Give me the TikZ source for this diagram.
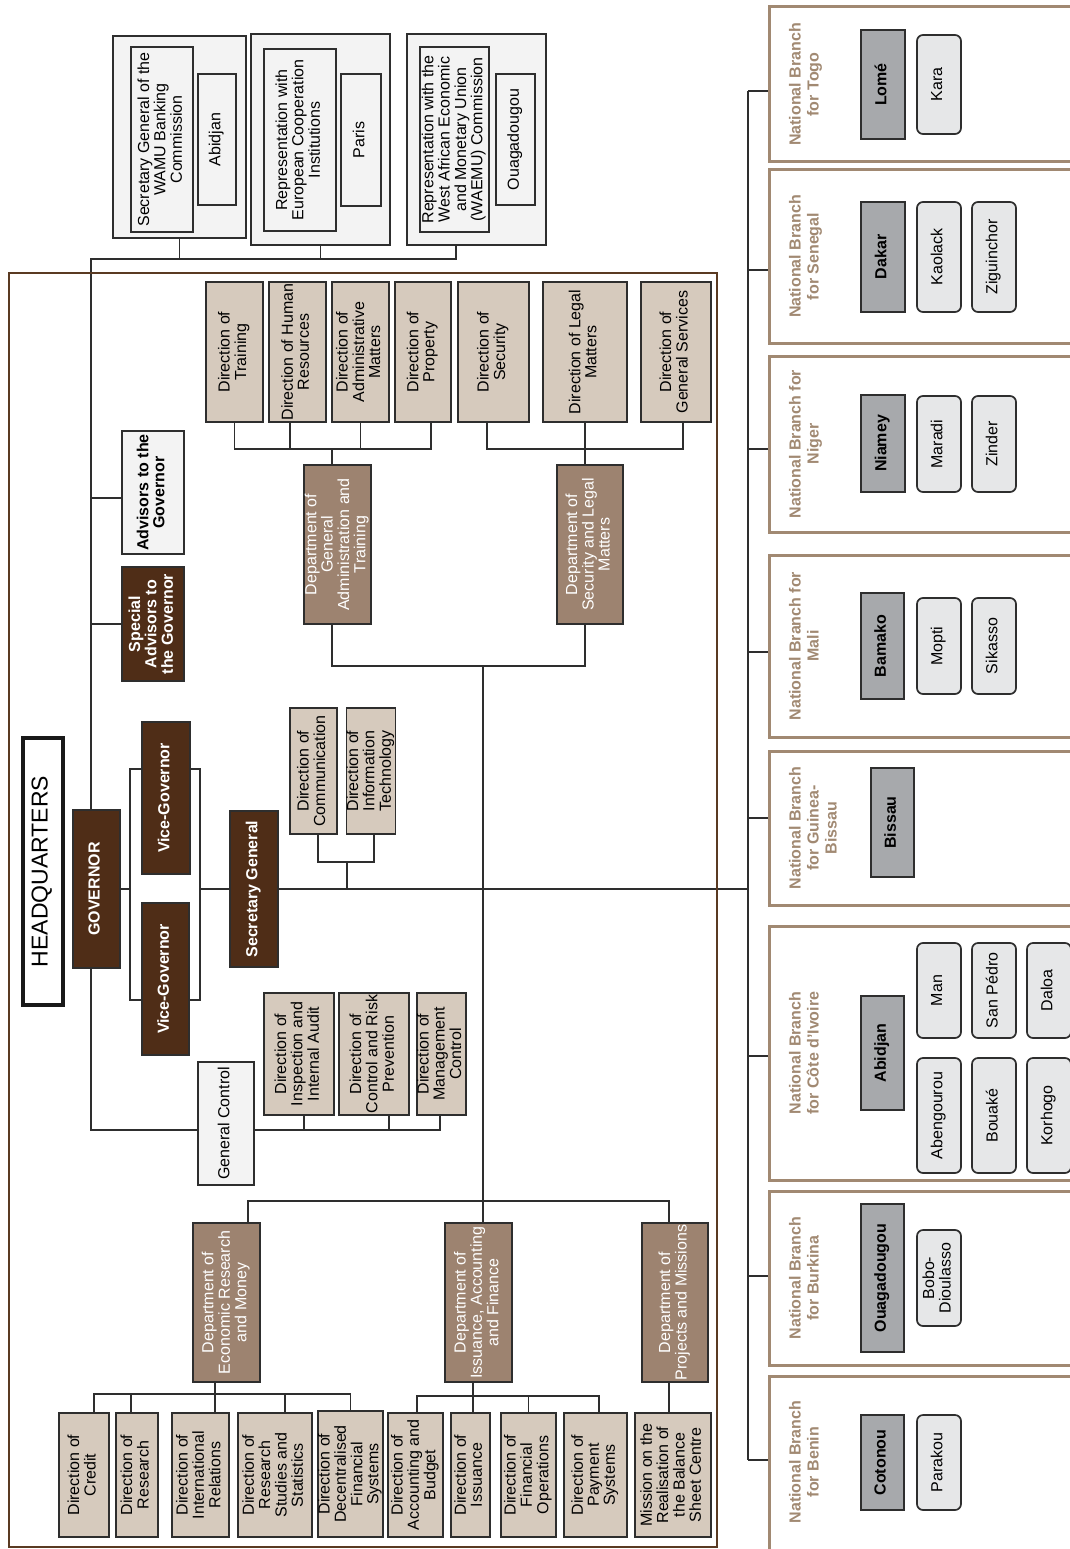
\documentclass[tikz,border=0pt]{standalone}
\usepackage{fontspec}
\usepackage{graphicx}
\setmainfont{Liberation Sans}
\pgfdeclarelayer{bg}
\pgfsetlayers{bg,main}
\definecolor{dbrown}{HTML}{4F2D17}
\definecolor{mbrown}{HTML}{9D8370}
\definecolor{beige}{HTML}{D6CABD}
\definecolor{lgrey}{HTML}{F3F3F3}
\definecolor{bbrown}{HTML}{A18972}
\definecolor{hqbrown}{HTML}{5A3A22}
\definecolor{cdark}{HTML}{A7A9AC}
\definecolor{clight}{HTML}{E6E7E8}
\definecolor{lined}{HTML}{2E2E2E}
\newcommand\rtx[1]{\rotatebox{90}{\begin{tabular}{@{}c@{}}#1\end{tabular}}}
\newcommand\bxx[7]{\node[#1,minimum width={#5-#3},minimum height={#6-#4}] (#2) at ({(#3+#5)/2},{(#4+#6)/2}) {\rtx{#7}};}
\newcommand\frmx[6]{\node[#1,minimum width={#5-#3},minimum height={#6-#4}] (#2) at ({(#3+#5)/2},{(#4+#6)/2}) {};}
\tikzset{
 conn/.style={draw=lined, line width=1.7pt},
 basebox/.style={draw=lined, line width=1.7pt, inner sep=0pt, outer sep=0pt, font=\fontsize{16}{16}\selectfont},
 dirbox/.style={basebox, fill=beige},
 deptbox/.style={basebox, fill=mbrown, text=white},
 execbox/.style={basebox, fill=dbrown, text=white, font=\fontsize{16}{16}\selectfont\bfseries},
 lightbox/.style={basebox, fill=lgrey},
 advbox/.style={basebox, fill=lgrey, font=\fontsize{16}{16}\selectfont\bfseries},
 outerbox/.style={basebox, fill=lgrey, line width=2.4pt},
 innerbox/.style={basebox, fill=lgrey, line width=1.5pt},
 hqlabel/.style={basebox, fill=white, draw=black!90, line width=3.5pt, font=\fontsize{23}{23}\selectfont},
 hqframe/.style={draw=hqbrown, line width=2.5pt, inner sep=0pt, outer sep=0pt},
 branchbox/.style={draw=bbrown, line width=3pt, inner sep=0pt, outer sep=0pt},
 blabel/.style={inner sep=0pt, outer sep=0pt, text=bbrown, font=\fontsize{16}{18}\selectfont\bfseries, anchor=west},
 citybox/.style={basebox, fill=cdark, font=\fontsize{16}{16}\selectfont\bfseries},
 townbox/.style={basebox, fill=clight, rounded corners=6pt}
}
\begin{document}
\begin{tikzpicture}[x=1pt,y=-1pt]
\useasboundingbox (0,0) rectangle (1070,1549);
% top representations
\frmx{outerbox}{sgwo}{113}{36}{246}{238}
\bxx{innerbox}{sgw}{131}{47}{193}{232}{Secretary General of the\\WAMU Banking\\Commission}
\bxx{innerbox}{abj}{198}{74}{236}{205}{Abidjan}
\frmx{outerbox}{repo}{251}{34}{390}{245}
\bxx{innerbox}{rep}{264}{49}{336}{231}{Representation with\\European Cooperation\\Institutions}
\bxx{innerbox}{par}{341}{74}{381}{206}{Paris}
\frmx{outerbox}{rwao}{407}{34}{546}{245}
\bxx{innerbox}{rwa}{420}{47}{489}{232}{Representation with the\\West African Economic\\and Monetary Union\\(WAEMU) Commission}
\bxx{innerbox}{oua}{496}{74}{535}{205}{Ouagadougou}
% HQ frame
\frmx{hqframe}{hq}{9}{273}{717}{1547}
\bxx{hqlabel}{hql}{23}{738}{63}{1005}{HEADQUARTERS}
% advisors
\bxx{advbox}{adv}{122}{431}{184}{554}{Advisors to the\\Governor}
\bxx{execbox}{sadv}{122}{567}{184}{681}{Special\\Advisors to\\the Governor}
% top directions
\bxx{dirbox}{dtr}{206}{282}{263}{422}{Direction of\\Training}
\bxx{dirbox}{dhr}{269}{282}{326}{422}{Direction of Human\\Resources}
\bxx{dirbox}{dad}{332}{282}{389}{422}{Direction of\\Administrative\\Matters}
\bxx{dirbox}{dpr}{395}{282}{451}{422}{Direction of\\Property}
\bxx{dirbox}{dse}{458}{282}{529}{422}{Direction of\\Security}
\bxx{dirbox}{dle}{543}{282}{627}{422}{Direction of Legal\\Matters}
\bxx{dirbox}{dgs}{641}{282}{711}{422}{Direction of\\General Services}
\bxx{deptbox}{dga}{304}{465}{371}{624}{Department of\\General\\Administration and\\Training}
\bxx{deptbox}{dsl}{557}{465}{623}{624}{Department of\\Security and Legal\\Matters}
% executives
\bxx{execbox}{gov}{73}{810}{120}{968}{GOVERNOR}
\bxx{execbox}{vg1}{142}{722}{190}{874}{Vice-Governor}
\bxx{execbox}{vg2}{142}{903}{189}{1055}{Vice-Governor}
\bxx{execbox}{sg}{230}{811}{278}{967}{Secretary General}
\bxx{dirbox}{dco}{290}{708}{337}{834}{Direction of\\Communication}
\bxx{dirbox}{dit}{347}{708}{395}{834}{Direction of\\Information\\Technology}
% general control
\bxx{lightbox}{gc}{198}{1062}{254}{1185}{General Control}
\bxx{dirbox}{dia}{264}{993}{334}{1115}{Direction of\\Inspection and\\Internal Audit}
\bxx{dirbox}{dcr}{339}{993}{409}{1115}{Direction of\\Control and Risk\\Prevention}
\bxx{dirbox}{dmc}{417}{993}{466}{1115}{Direction of\\Management\\Control}
% bottom departments
\bxx{deptbox}{der}{193}{1223}{260}{1382}{Department of\\Economic Research\\and Money}
\bxx{deptbox}{dis}{445}{1223}{512}{1382}{Department of\\Issuance, Accounting\\and Finance}
\bxx{deptbox}{dpm}{642}{1223}{708}{1382}{Department of\\Projects and Missions}
\bxx{dirbox}{dcd}{59}{1413}{109}{1537}{Direction of\\Credit}
\bxx{dirbox}{drs}{116}{1413}{158}{1537}{Direction of\\Research}
\bxx{dirbox}{dirl}{172}{1413}{229}{1537}{Direction of\\International\\Relations}
\bxx{dirbox}{drss}{238}{1413}{312}{1537}{Direction of\\Research\\Studies and\\Statistics}
\bxx{dirbox}{ddfs}{318}{1411}{383}{1537}{Direction of\\Decentralised\\Financial\\Systems}
\bxx{dirbox}{dab}{388}{1413}{443}{1537}{Direction of\\Accounting and\\Budget}
\bxx{dirbox}{dis2}{451}{1413}{490}{1537}{Direction of\\Issuance}
\bxx{dirbox}{dfo}{501}{1413}{556}{1537}{Direction of\\Financial\\Operations}
\bxx{dirbox}{dps}{564}{1413}{627}{1537}{Direction of\\Payment\\Systems}
\bxx{dirbox}{dmis}{635}{1413}{711}{1537}{Mission on the\\Realisation of\\the Balance\\Sheet Centre}
% national branches
\frmx{branchbox}{btg}{769}{7}{1090}{162}
\frmx{branchbox}{bsn}{769}{170}{1090}{343}
\frmx{branchbox}{bne}{769}{356}{1090}{532}
\frmx{branchbox}{bml}{769}{555}{1090}{737}
\frmx{branchbox}{bgb}{769}{751}{1090}{905}
\frmx{branchbox}{bci}{769}{926}{1090}{1180}
\frmx{branchbox}{bbf}{769}{1191}{1090}{1365}
\frmx{branchbox}{bbj}{769}{1376}{1090}{1570}
\node[blabel] (ltg) at (788,84.5) {\rtx{National Branch\\for Togo}};
\node[blabel] (lsn) at (788,256.5) {\rtx{National Branch\\for Senegal}};
\node[blabel] (lne) at (788,444) {\rtx{National Branch for\\Niger}};
\node[blabel] (lml) at (788,646) {\rtx{National Branch for\\Mali}};
\node[blabel] (lgb) at (788,828) {\rtx{National Branch\\for Guinea-\\Bissau}};
\node[blabel] (lci) at (788,1053) {\rtx{National Branch\\for C\^ote d'Ivoire}};
\node[blabel] (lbf) at (788,1278) {\rtx{National Branch\\for Burkina}};
\node[blabel] (lbj) at (788,1462) {\rtx{National Branch\\for Benin}};
\bxx{citybox}{lome}{861}{30}{905}{139}{Lomé}
\bxx{townbox}{kara}{917}{35}{961}{134}{Kara}
\bxx{citybox}{dakar}{861}{202}{905}{312}{Dakar}
\bxx{townbox}{kaol}{917}{202}{961}{312}{Kaolack}
\bxx{townbox}{zig}{972}{202}{1016}{312}{Ziguinchor}
\bxx{citybox}{niam}{861}{395}{905}{492}{Niamey}
\bxx{townbox}{mara}{917}{396}{961}{492}{Maradi}
\bxx{townbox}{zind}{972}{396}{1016}{492}{Zinder}
\bxx{citybox}{bama}{861}{593}{904}{699}{Bamako}
\bxx{townbox}{mopt}{917}{598}{961}{694}{Mopti}
\bxx{townbox}{sika}{972}{598}{1016}{694}{Sikasso}
\bxx{citybox}{biss}{871}{768}{914}{877}{Bissau}
\bxx{citybox}{abid}{861}{996}{904}{1110}{Abidjan}
\bxx{townbox}{man}{917}{943}{961}{1038}{Man}
\bxx{townbox}{abeng}{917}{1058}{961}{1173}{Abengourou}
\bxx{townbox}{sped}{972}{943}{1016}{1038}{San Pédro}
\bxx{townbox}{bouak}{972}{1058}{1016}{1173}{Bouaké}
\bxx{townbox}{daloa}{1027}{943}{1071}{1038}{Daloa}
\bxx{townbox}{korh}{1027}{1058}{1071}{1173}{Korhogo}
\bxx{citybox}{ouag}{861}{1204}{904}{1352}{Ouagadougou}
\bxx{townbox}{bobo}{917}{1230}{961}{1326}{Bobo-\\Dioulasso}
\bxx{citybox}{coto}{861}{1415}{904}{1510}{Cotonou}
\bxx{townbox}{para}{917}{1415}{961}{1510}{Parakou}
% connectors
\begin{pgfonlayer}{bg}
\coordinate (busT) at (91,259);
\coordinate (rwaS) at ([xshift=-20.5pt]rwao.south);
\coordinate (govN) at ([xshift=-5.5pt]gov.north);
\coordinate (govS) at ([xshift=-5.5pt]gov.south);
\draw[conn] (sgwo.south) -- (sgwo.south |- busT);
\draw[conn] (repo.south) -- (repo.south |- busT);
\draw[conn] (rwaS) |- (busT) -- (govN);
\draw[conn] ([yshift=-5.5pt]adv.west) -- ++(-31pt,0);
\draw[conn] (sadv.west) -- ++(-31pt,0);
\coordinate (b1) at (0,449);
\coordinate (hrS) at ([xshift=-7.5pt]dhr.south);
\coordinate (prS) at ([xshift=8pt]dpr.south);
\coordinate (seS) at ([xshift=-6.5pt]dse.south);
\coordinate (gsS) at ([xshift=7pt]dgs.south);
\coordinate (gaN) at ([xshift=-5.5pt]dga.north);
\coordinate (slN) at ([xshift=-5pt]dsl.north);
\coordinate (gaS) at ([xshift=-5.5pt]dga.south);
\coordinate (slS) at ([xshift=-5pt]dsl.south);
\draw[conn] (dtr.south) |- (prS |- b1) -- (prS);
\draw[conn] (hrS) -- (hrS |- b1);
\draw[conn] (dad.south) -- (dad.south |- b1);
\draw[conn] (gaN) -- (gaN |- b1);
\draw[conn] (seS) |- (gsS |- b1) -- (gsS);
\draw[conn] (dle.south) -- (slN);
\coordinate (b2) at (483,666);
\draw[conn] (gaS) |- (slS |- b2) -- (slS);
\coordinate (iN) at ([xshift=4.5pt]dis.north);
\coordinate (b3) at (0,1201);
\draw[conn] (b2) -- (iN);
\coordinate (eN) at ([xshift=21.5pt]der.north);
\coordinate (pN) at ([xshift=-6pt]dpm.north);
\draw[conn] (eN) |- (pN |- b3) -- (pN);
\coordinate (brA) at (130,769);
\coordinate (brB) at (200,1000);
\draw[conn] (brA) rectangle (brB);
\draw[conn] (gov.east) -- (gov.east -| brA);
\draw[conn] (sg.west) -- (sg.west -| brB);
\coordinate (coS) at ([xshift=4.5pt]dco.south);
\coordinate (itS) at ([xshift=3pt]dit.south);
\coordinate (b4) at (347,862);
\draw[conn] (coS) |- (itS |- b4) -- (itS);
\draw[conn] (b4) -- (b4 |- sg.east);
\coordinate (gcW) at ([yshift=-6.5pt]gc.west);
\coordinate (gcE) at ([yshift=-6.5pt]gc.east);
\draw[conn] (govS) |- (gcW);
\coordinate (iaS) at ([xshift=5pt]dia.south);
\coordinate (crS) at ([xshift=15pt]dcr.south);
\coordinate (mcS) at ([xshift=-1.5pt]dmc.south);
\draw[conn] (gcE) -| (mcS);
\draw[conn] (iaS) -- (iaS |- gcE);
\draw[conn] (crS) -- (crS |- gcE);
\coordinate (b5) at (0,1394);
\coordinate (cdN) at ([xshift=10pt]dcd.north);
\coordinate (rsN) at ([xshift=-6pt]drs.north);
\coordinate (irN) at ([xshift=14.5pt]dirl.north);
\coordinate (rssN) at ([xshift=10pt]drss.north);
\coordinate (erS) at ([xshift=-11.5pt]der.south);
\draw[conn] (cdN) |- (ddfs.north |- b5) -- (ddfs.north);
\draw[conn] (rsN) -- (rsN |- b5);
\draw[conn] (rssN) -- (rssN |- b5);
\draw[conn] (erS) -- (irN);
\coordinate (b6) at (0,1396);
\coordinate (abN) at ([xshift=1.5pt]dab.north);
\coordinate (psN) at ([xshift=3.5pt]dps.north);
\coordinate (isS) at ([xshift=-5.5pt]dis.south);
\draw[conn] (abN) |- (psN |- b6) -- (psN);
\draw[conn] (dfo.north) -- (dfo.north |- b6);
\draw[conn] (isS) -- (isS |- dis2.north);
\coordinate (pS) at ([xshift=-6pt]dpm.south);
\draw[conn] (pS) -- (pS |- dmis.north);
\draw[conn] ([yshift=-6.5pt]btg.west) -- ++(-21pt,0) coordinate (tkT);
\draw[conn] ([yshift=-13.5pt]bsn.west) -- ++(-21pt,0);
\draw[conn] ([yshift=-5pt]bne.west) -- ++(-21pt,0);
\draw[conn] ([yshift=-6pt]bml.west) -- ++(-21pt,0);
\draw[conn] ([yshift=10pt]bgb.west) -- ++(-21pt,0);
\draw[conn] ([yshift=-3pt]bci.west) -- ++(-21pt,0);
\draw[conn] ([yshift=2pt]bbf.west) -- ++(-21pt,0);
\draw[conn] ([yshift=13pt]bbj.west) -- ++(-21pt,0) coordinate (tkB);
\draw[conn] (tkT) -- (tkB);
\draw[conn] (sg.east) -- (sg.east -| tkT);
\end{pgfonlayer}
\end{tikzpicture}
\end{document}
